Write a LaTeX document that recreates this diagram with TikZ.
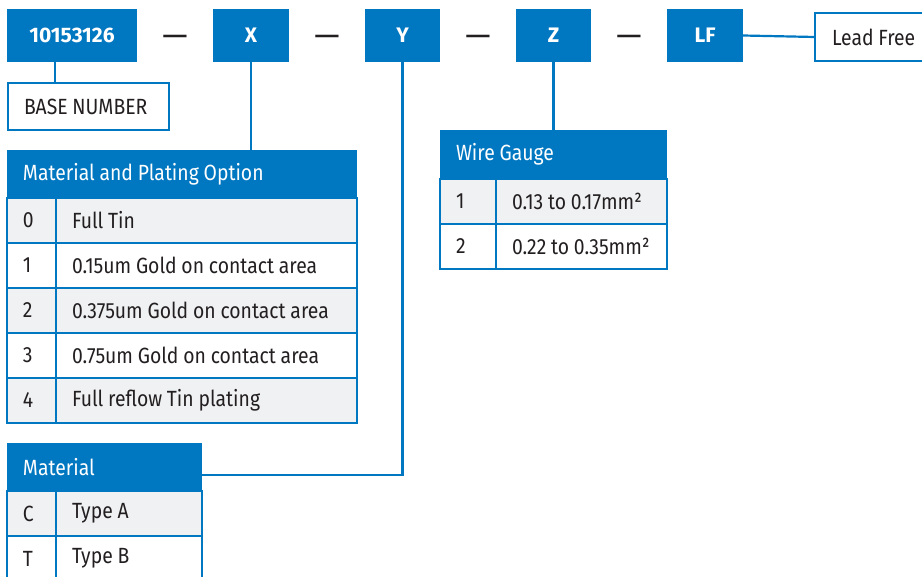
\documentclass[tikz,border=0pt]{standalone}
\usepackage{fontspec}
\setmainfont[FakeStretch=0.88]{Fira Sans}
\newfontfamily\codefont{Fira Sans}
\usetikzlibrary{positioning}

\definecolor{pnblue}{HTML}{0077C1}
\definecolor{pngray}{HTML}{F0F1F3}
\definecolor{pntext}{HTML}{231F20}

\tikzset{
  code/.style={fill=pnblue, text=white, font=\codefont\fontsize{21}{24}\selectfont\bfseries,
    minimum height=53pt, inner sep=0pt, outer sep=0pt, anchor=north west},
  dashsym/.style={text=pntext, font=\codefont\fontsize{32}{32}\selectfont, inner sep=0pt, anchor=base},
  txt/.style={font=\fontsize{22}{24}\selectfont, align=left, execute at begin node={\spaceskip=4.8pt\relax},
    inner xsep=16pt, inner ysep=0pt, outer sep=0pt, anchor=north west},
  note/.style={txt, draw=pnblue, line width=1.8pt, fill=white, text=pntext},
  head/.style={txt, fill=pnblue, text=white},
  cell/.style={txt, draw=pnblue, line width=1.8pt, text=pntext, minimum height=45pt},
  link/.style={draw=pnblue, line width=2.2pt},
}

\begin{document}
\begin{tikzpicture}[x=1pt, y=-1pt]
    \useasboundingbox (0,0) rectangle (922,577);

    % part number code
    \node [code, minimum width=130pt] (base) at (7,9) {10153126};
    \node [code, minimum width=76pt] (xopt) at (213,9) {X};
    \node [code, minimum width=75pt] (yopt) at (365,9) {Y};
    \node [code, minimum width=75pt] (zopt) at (516,9) {Z};
    \node [code, minimum width=76pt] (lf) at (667,9) {LF};

    \node [dashsym] (d1) at (175,47) {—};
    \node [dashsym] (d2) at (327,47) {—};
    \node [dashsym] (d3) at (478,47) {—};
    \node [dashsym] (d4) at (629,47) {—};

    % notes
    \node [note, text width=129pt, minimum height=47pt] (basenote) at (8,83) {BASE NUMBER};
    \node [note, text width=100pt, minimum height=48pt, inner xsep=17pt] (leadfree) at (815,13) {Lead Free};

    % material and plating option
    \node [head, text width=318pt, minimum height=48pt] (plating) at (7,150) {Material and Plating Option};
    \foreach \k/\v/\c [count=\i from 0] in {0/Full Tin/pngray, 1/0.15um Gold on contact area/white,
        2/0.375um Gold on contact area/pngray, 3/0.75um Gold on contact area/white, 4/Full reflow Tin plating/pngray} {
      \node [cell, fill=\c, text width=17pt] (pk\k) at (7,{198+45*\i}) {\k};
      \node [cell, fill=\c, text width=269pt] (pv\k) at (56,{198+45*\i}) {\v};
    }

    % wire gauge
    \node [head, text width=195pt, minimum height=49pt] (wire) at (440,130) {Wire Gauge};
    \foreach \k/\v/\c [count=\i from 0] in {1/0.13 to 0.17mm²/pngray, 2/0.22 to 0.35mm²/white} {
      \node [cell, fill=\c, text width=24pt] (wk\k) at (440,{179+45*\i}) {\k};
      \node [cell, fill=\c, text width=139pt] (wv\k) at (496,{179+45*\i}) {\v};
    }

    % material
    \node [head, text width=163pt, minimum height=48pt] (material) at (7,443) {Material};
    \foreach \k/\v/\c [count=\i from 0] in {C/Type A/pngray, T/Type B/white} {
      \node [cell, fill=\c, text width=17pt] (mk\k) at (7,{491+45*\i}) {\k};
      \node [cell, fill=\c, text width=114pt] (mv\k) at (56,{491+45*\i}) {\v};
    }

    % links
    \coordinate (mjoin) at ([yshift=-8pt]material.east);
    \draw [link] ([xshift=48pt]base.south west) -- ([xshift=48pt]base.south west |- basenote.north);
    \draw [link] (xopt.south) -- (xopt.south |- plating.north);
    \draw [link] (yopt.south) |- (mjoin);
    \draw [link] (zopt.south) -- (zopt.south |- wire.north);
    \draw [link] (lf.east) -- (leadfree.west);

  \end{tikzpicture}
\end{document}
